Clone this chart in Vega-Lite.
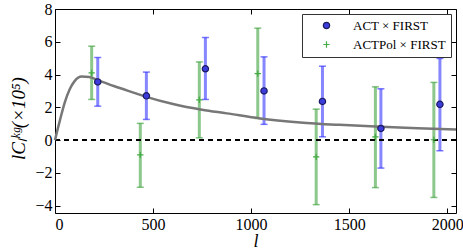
{
  "$schema": "https://vega.github.io/schema/vega-lite/v6.json",
  "width": 401,
  "height": 204,
  "autosize": "none",
  "padding": {"left": 55, "top": 9, "right": 7, "bottom": 38},
  "background": "white",
  "config": {
    "view": {"stroke": "black", "strokeWidth": 1},
    "axis": {"grid": false, "domain": false, "tickColor": "black", "labelColor": "black", "labelFont": "Liberation Serif", "labelFontSize": 16, "tickSize": -5, "titleFont": "Liberation Serif", "titleColor": "black", "titleFontWeight": "normal"},
    "legend": {"labelFont": "Liberation Serif", "labelFontSize": 13, "labelColor": "black", "symbolSize": 40, "symbolStrokeWidth": 1.2, "labelOffset": 20, "symbolOffset": 13, "rowPadding": 5, "padding": 5, "strokeColor": "#333333", "fillColor": "white", "labelLimit": 300}
  },
  "datasets": {
    "obs": [
      {"series": "ACT × FIRST", "l": 218, "val": 3.55, "lo": 2.07, "hi": 5.04},
      {"series": "ACT × FIRST", "l": 466, "val": 2.70, "lo": 1.26, "hi": 4.15},
      {"series": "ACT × FIRST", "l": 767, "val": 4.35, "lo": 2.48, "hi": 6.26},
      {"series": "ACT × FIRST", "l": 1066, "val": 3.00, "lo": 0.96, "hi": 5.08},
      {"series": "ACT × FIRST", "l": 1364, "val": 2.36, "lo": 0.20, "hi": 4.51},
      {"series": "ACT × FIRST", "l": 1662, "val": 0.71, "lo": -1.71, "hi": 3.13},
      {"series": "ACT × FIRST", "l": 1963, "val": 2.18, "lo": -0.65, "hi": 4.98},
      {"series": "ACTPol × FIRST", "l": 187, "val": 4.10, "lo": 2.48, "hi": 5.73},
      {"series": "ACTPol × FIRST", "l": 435, "val": -0.90, "lo": -2.88, "hi": 1.02},
      {"series": "ACTPol × FIRST", "l": 736, "val": 2.46, "lo": 0.14, "hi": 4.77},
      {"series": "ACTPol × FIRST", "l": 1034, "val": 4.06, "lo": 1.32, "hi": 6.83},
      {"series": "ACTPol × FIRST", "l": 1332, "val": -1.02, "lo": -3.94, "hi": 1.89},
      {"series": "ACTPol × FIRST", "l": 1634, "val": 0.20, "lo": -2.90, "hi": 3.25},
      {"series": "ACTPol × FIRST", "l": 1932, "val": 0.02, "lo": -3.50, "hi": 3.52}
    ],
    "theory": [
      {"l": 0, "c": 0.0}, {"l": 10, "c": 0.5}, {"l": 25, "c": 1.2}, {"l": 50, "c": 2.3},
      {"l": 75, "c": 3.1}, {"l": 100, "c": 3.6}, {"l": 136, "c": 3.88}, {"l": 175, "c": 3.85},
      {"l": 218, "c": 3.66}, {"l": 300, "c": 3.3}, {"l": 400, "c": 2.9}, {"l": 466, "c": 2.64},
      {"l": 602, "c": 2.2}, {"l": 750, "c": 1.85}, {"l": 876, "c": 1.63}, {"l": 1046, "c": 1.32},
      {"l": 1250, "c": 1.08}, {"l": 1450, "c": 0.93}, {"l": 1662, "c": 0.81}, {"l": 1850, "c": 0.72},
      {"l": 2045, "c": 0.65}
    ],
    "zero": [{"y": 0}]
  },
  "resolve": {"axis": {"x": "independent", "y": "independent"}},
  "layer": [
    {
      "data": {"name": "obs"},
      "transform": [{"filter": "datum.series === 'ACTPol × FIRST'"}],
      "mark": {"type": "rule", "strokeWidth": 3, "opacity": 0.55, "color": "#2e9a2e"},
      "encoding": {
        "x": {"field": "l", "type": "quantitative", "scale": {"domain": [0, 2045], "nice": false, "zero": false},
              "axis": {"values": [0, 500, 1000, 1500, 2000], "format": "d", "title": "l", "titleFontStyle": "italic", "titleFontSize": 18, "labelPadding": 8, "titleY": 28, "titleBaseline": "middle"}},
        "y": {"field": "lo", "type": "quantitative", "scale": {"domain": [-4.45, 8], "nice": false, "zero": false},
              "axis": {"values": [-4, -2, 0, 2, 4, 6, 8], "format": "d", "title": "lCₗᵏᵍ(×10⁵)", "titleFontStyle": "italic", "titleFontSize": 19, "labelPadding": 8, "titleX": -37, "titleY": 109, "titleAngle": -90, "titleAlign": "center", "titleBaseline": "middle"}},
        "y2": {"field": "hi"}
      }
    },
    {
      "data": {"name": "obs"},
      "transform": [{"filter": "datum.series === 'ACTPol × FIRST'"}, {"fold": ["lo", "hi"], "as": ["end", "yv"]}],
      "mark": {"type": "tick", "orient": "horizontal", "size": 7, "thickness": 1.5, "opacity": 0.6, "color": "#2e9a2e"},
      "encoding": {
        "x": {"field": "l", "type": "quantitative", "axis": null},
        "y": {"field": "yv", "type": "quantitative", "axis": null}
      }
    },
    {
      "data": {"name": "obs"},
      "transform": [{"filter": "datum.series === 'ACT × FIRST'"}],
      "mark": {"type": "rule", "strokeWidth": 3, "opacity": 0.55, "color": "#2222ff"},
      "encoding": {
        "x": {"field": "l", "type": "quantitative", "axis": null},
        "y": {"field": "lo", "type": "quantitative", "axis": null},
        "y2": {"field": "hi"}
      }
    },
    {
      "data": {"name": "obs"},
      "transform": [{"filter": "datum.series === 'ACT × FIRST'"}, {"fold": ["lo", "hi"], "as": ["end", "yv"]}],
      "mark": {"type": "tick", "orient": "horizontal", "size": 7, "thickness": 1.5, "opacity": 0.6, "color": "#2222ff"},
      "encoding": {
        "x": {"field": "l", "type": "quantitative", "axis": null},
        "y": {"field": "yv", "type": "quantitative", "axis": null}
      }
    },
    {
      "data": {"name": "zero"},
      "mark": {"type": "rule", "color": "black", "strokeWidth": 2, "strokeDash": [5, 4]},
      "encoding": {
        "y": {"field": "y", "type": "quantitative", "axis": null}
      }
    },
    {
      "data": {"name": "theory"},
      "mark": {"type": "line", "color": "#777777", "strokeWidth": 2.5, "interpolate": "monotone"},
      "encoding": {
        "x": {"field": "l", "type": "quantitative", "axis": {"orient": "top", "values": [0, 500, 1000, 1500, 2000], "labels": false, "title": null}},
        "y": {"field": "c", "type": "quantitative", "axis": {"orient": "right", "values": [-4, -2, 0, 2, 4, 6, 8], "labels": false, "title": null}}
      }
    },
    {
      "data": {"name": "obs"},
      "mark": {"type": "point", "size": 40, "strokeWidth": 1.2, "opacity": 1, "filled": true},
      "encoding": {
        "x": {"field": "l", "type": "quantitative", "axis": null},
        "y": {"field": "val", "type": "quantitative", "axis": null},
        "color": {"field": "series", "type": "nominal", "scale": {"domain": ["ACT × FIRST", "ACTPol × FIRST"], "range": ["#3c3cdc", "#44aa44"]},
                 "legend": {"title": null, "orient": "top-right", "offset": 5}},
        "stroke": {"field": "series", "type": "nominal", "scale": {"domain": ["ACT × FIRST", "ACTPol × FIRST"], "range": ["#1a1a5e", "#44aa44"]}, "legend": null},
        "shape": {"field": "series", "type": "nominal", "scale": {"domain": ["ACT × FIRST", "ACTPol × FIRST"], "range": ["circle", "M-1,0H1M0,-1V1"]}}
      }
    }
  ]
}
